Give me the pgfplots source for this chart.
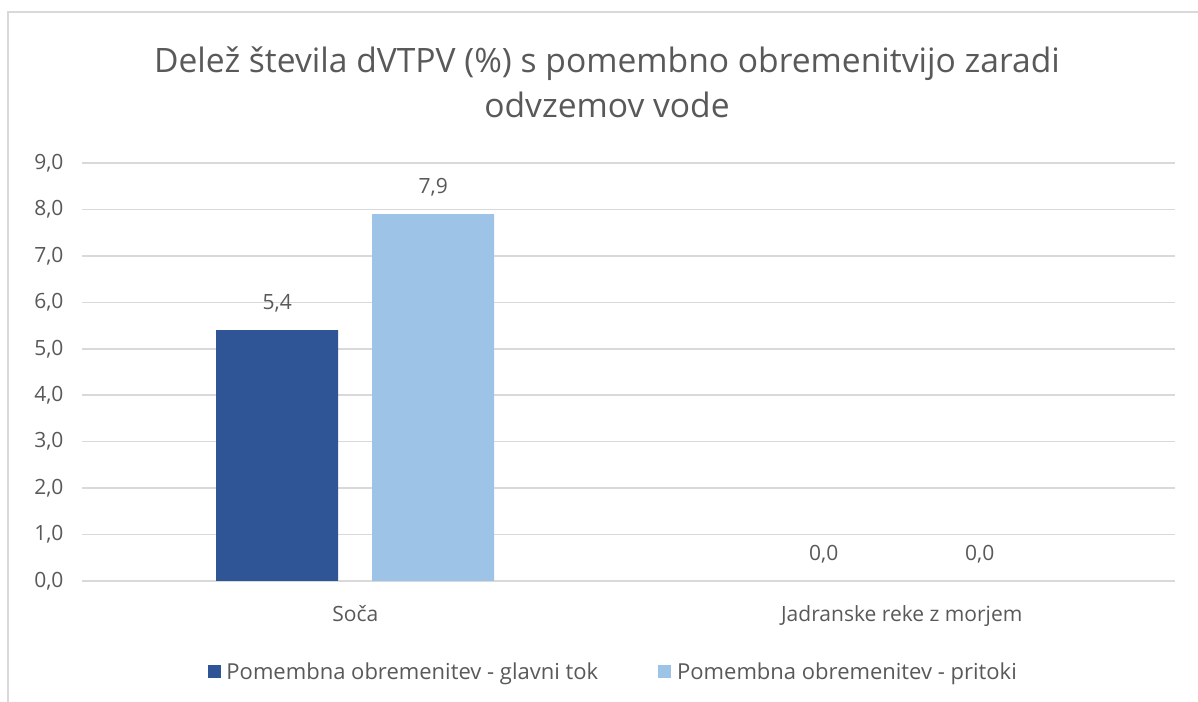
\documentclass[border=0pt]{standalone}
\usepackage{pgfplots}
\pgfplotsset{compat=1.18}
\usepackage{fontspec}
\setmainfont{Open Sans}

\definecolor{darkblue}{HTML}{2F5597}
\definecolor{lightblue}{HTML}{9DC3E6}
\definecolor{txtgray}{HTML}{595959}
\definecolor{gridgray}{HTML}{D9D9D9}

\begin{document}
\begin{tikzpicture}
    % page = 1198 x 702 px, 1 px = 1 bp
    \path[use as bounding box] (0bp,0bp) rectangle (1198bp,702bp);
    \fill[white] (0bp,0bp) rectangle (1198bp,702bp);
    % chart frame (top and left edges visible)
    \draw[line width=2.5bp, gridgray] (8bp,0bp) -- (8bp,690bp) -- (1198bp,690bp);

    % title
    \node[align=center, text=txtgray, font=\fontsize{33.6bp}{45bp}\selectfont]
        at (607bp,620bp) {Delež števila dVTPV (\%) s pomembno obremenitvijo zaradi\\odvzemov vode};

    \begin{axis}[
        % placement
        at = {(82bp,121bp)},
        anchor = south west,
        scale only axis,
        width  = 1093bp,
        height = 418bp,
        % plot type
        ybar = 34bp,
        bar width = 122bp,
        % axes
        xmin = -0.5, xmax = 1.5,
        ymin = 0, ymax = 9,
        ytick = {0,1,...,9},
        xtick = {0,1},
        xticklabels = {Soča, Jadranske reke z morjem},
        axis line style = {draw=none},
        major tick length = 0pt,
        % grid
        ymajorgrids = true,
        grid style = {gridgray, line width=1.5bp},
        % labels
        /pgf/number format/assume math mode = true,
        yticklabel = {\pgfmathprintnumber[fixed, zerofill, precision=1, use comma]{\tick}},
        tick label style = {text=txtgray, font=\fontsize{21bp}{25bp}\selectfont},
        yticklabel style = {xshift=-15bp},
        xticklabel style = {yshift=-21bp},
        nodes near coords,
        nodes near coords style = {
            text = txtgray,
            font = \fontsize{21bp}{25bp}\selectfont,
            anchor = south,
            yshift = 14bp,
            /pgf/number format/.cd, fixed, zerofill, precision=1, use comma
        },
        % legend
        legend columns = 2,
        legend style = {
            at = {(0.486,-0.217)},
            anchor = center,
            draw = none,
            fill = none,
            text = txtgray,
            font = \fontsize{22bp}{26bp}\selectfont,
            /tikz/every even column/.append style = {column sep=58bp},
        },
        legend image code/.code = {
            \fill[#1] (0bp,-6.5bp) rectangle (13bp,6.5bp);
            \path (17bp,0bp);
        },
    ]

        % glavni tok
        \addplot[fill=darkblue, draw=none] coordinates {
            (0, 5.4)
            (1, 0.0)
        };

        % pritoki
        \addplot[fill=lightblue, draw=none] coordinates {
            (0, 7.9)
            (1, 0.0)
        };

        \legend{Pomembna obremenitev - glavni tok, Pomembna obremenitev - pritoki}
    \end{axis}
\end{tikzpicture}
\end{document}
